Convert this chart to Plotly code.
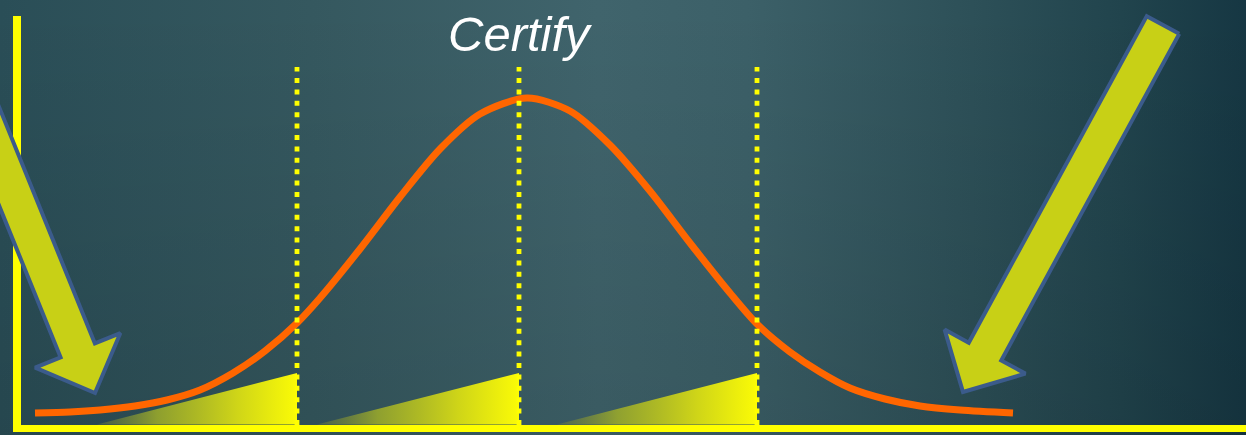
import base64
import math
import plotly.graph_objects as go

# ---------------- data ----------------
title_text = "Certify"

# bell curve (x position, height above baseline)
curve_x = [35, 70, 100, 135, 167, 200, 233, 265, 297, 320, 360, 400, 440, 480, 527,
           570, 610, 650, 690, 730, 757, 790, 820, 850, 885, 920, 960, 1013]
curve_y = [12, 13, 15, 19, 25, 35, 52, 74, 102, 127, 176, 228, 276, 311, 327,
           314, 280, 234, 182, 132, 101, 73, 53, 37, 26, 19, 15, 12]

# vertical dotted markers (x positions) and their height
marker_x = [297, 519, 757]
marker_top = 358

# gradient wedges: start x, end x, height at end
wedge_start = [97, 317, 557]
wedge_end = [297, 519, 757]
wedge_height = [52, 52, 52]

# block arrows: (tip, tail)
arrow_tips = [(95, 32), (963, 33)]
arrow_tails = [(-29, 338), (1163, 400)]

# ---------------- helpers ----------------
W, H = 1246, 435
PLOT_L, PLOT_T, PLOT_B = 21, 16, 425


def block_arrow(tip, tail, shaft_w=37, head_w=92, head_len=46):
    tx, ty = tip
    sx, sy = tail
    dx, dy = tx - sx, ty - sy
    L = math.hypot(dx, dy)
    ux, uy = dx / L, dy / L
    nx, ny = -uy, ux
    neck = (tx - ux * head_len, ty - uy * head_len)
    pts = [
        (sx + nx * shaft_w / 2, sy + ny * shaft_w / 2),
        (neck[0] + nx * shaft_w / 2, neck[1] + ny * shaft_w / 2),
        (neck[0] + nx * head_w / 2, neck[1] + ny * head_w / 2),
        (tx, ty),
        (neck[0] - nx * head_w / 2, neck[1] - ny * head_w / 2),
        (neck[0] - nx * shaft_w / 2, neck[1] - ny * shaft_w / 2),
        (sx - nx * shaft_w / 2, sy - ny * shaft_w / 2),
    ]
    pts.append(pts[0])
    return [p[0] for p in pts], [p[1] for p in pts]


fig = go.Figure()

# gradient wedges
for xs, xe, h in zip(wedge_start, wedge_end, wedge_height):
    fig.add_trace(go.Scatter(
        x=[xs, xe, xe, xs], y=[0.5, 0.5, h, 0.5],
        mode="lines", line=dict(width=0), fill="toself",
        fillgradient=dict(type="horizontal", colorscale=[
            [0.0, "rgba(120,135,55,0.35)"],
            [0.3, "rgba(155,170,42,0.88)"],
            [0.7, "#cfd518"],
            [1.0, "#fbfb06"],
        ]),
        hoverinfo="skip", showlegend=False, xaxis="x", yaxis="y"))

# bell curve
fig.add_trace(go.Scatter(
    x=curve_x, y=curve_y, mode="lines",
    line=dict(color="#ff6600", width=7, shape="spline", smoothing=0.8),
    hoverinfo="skip", showlegend=False, xaxis="x", yaxis="y"))

# dotted vertical markers
for mx in marker_x:
    fig.add_trace(go.Scatter(
        x=[mx, mx], y=[0, marker_top], mode="lines",
        line=dict(color="#ffff00", width=4.8, dash="5px,6.4px"),
        hoverinfo="skip", showlegend=False, xaxis="x", yaxis="y"))

# block arrows on a full-figure overlay
for tip, tail in zip(arrow_tips, arrow_tails):
    ax_, ay_ = block_arrow(tip, tail)
    fig.add_trace(go.Scatter(
        x=ax_, y=ay_, mode="lines", fill="toself",
        fillcolor="#c8d016", line=dict(color="#3b5b8b", width=4),
        hoverinfo="skip", showlegend=False, xaxis="x2", yaxis="y2"))

# background gradient as inline svg
svg = f"""<svg xmlns='http://www.w3.org/2000/svg' width='{W}' height='{H}' viewBox='0 0 {W} {H}' preserveAspectRatio='none'>
<defs>
<linearGradient id='h' x1='0' y1='0' x2='1' y2='0'>
<stop offset='0' stop-color='#2a4e57'/>
<stop offset='0.25' stop-color='#35585f'/>
<stop offset='0.48' stop-color='#40646c'/>
<stop offset='0.6' stop-color='#3c6068'/>
<stop offset='0.78' stop-color='#2d5058'/>
<stop offset='0.9' stop-color='#21444d'/>
<stop offset='1' stop-color='#163743'/>
</linearGradient>
<linearGradient id='v' x1='0' y1='0' x2='0' y2='1'>
<stop offset='0' stop-color='#000' stop-opacity='0'/>
<stop offset='1' stop-color='#000' stop-opacity='0.1'/>
</linearGradient>
</defs>
<rect width='{W}' height='{H}' fill='url(#h)'/>
<rect width='{W}' height='{H}' fill='url(#v)'/>
</svg>"""
svg_uri = "data:image/svg+xml;base64," + base64.b64encode(svg.encode()).decode()

fig.update_layout(
    width=W, height=H,
    margin=dict(l=0, r=0, t=0, b=0),
    paper_bgcolor="#2f535b",
    plot_bgcolor="rgba(0,0,0,0)",
    hovermode=False,
    images=[dict(source=svg_uri, xref="paper", yref="paper", x=0, y=1,
                 sizex=1, sizey=1, xanchor="left", yanchor="top",
                 sizing="stretch", layer="below")],
    xaxis=dict(domain=[PLOT_L / W, 1], range=[PLOT_L, W],
               showline=True, linecolor="#ffff00", linewidth=7,
               showgrid=False, zeroline=False, showticklabels=False, ticks=""),
    yaxis=dict(domain=[1 - PLOT_B / H, 1 - PLOT_T / H], range=[0, PLOT_B - PLOT_T],
               showline=True, linecolor="#ffff00", linewidth=8,
               showgrid=False, zeroline=False, showticklabels=False, ticks=""),
    xaxis2=dict(domain=[0, 1], range=[0, W], anchor="y2", visible=False),
    yaxis2=dict(domain=[0, 1], range=[PLOT_B - H, PLOT_B], anchor="x2", visible=False),
    annotations=[dict(
        text="<i>" + title_text + "</i>", x=520, y=391, xref="x", yref="y",
        xanchor="center", yanchor="middle", showarrow=False,
        font=dict(family="Liberation Sans, Arial, sans-serif", size=49, color="white"))],
)

fig.write_html(
    "out.html",
    config={"displayModeBar": False, "staticPlot": True},
    post_script="document.body.style.margin='0';document.body.style.overflow='hidden';",
)
